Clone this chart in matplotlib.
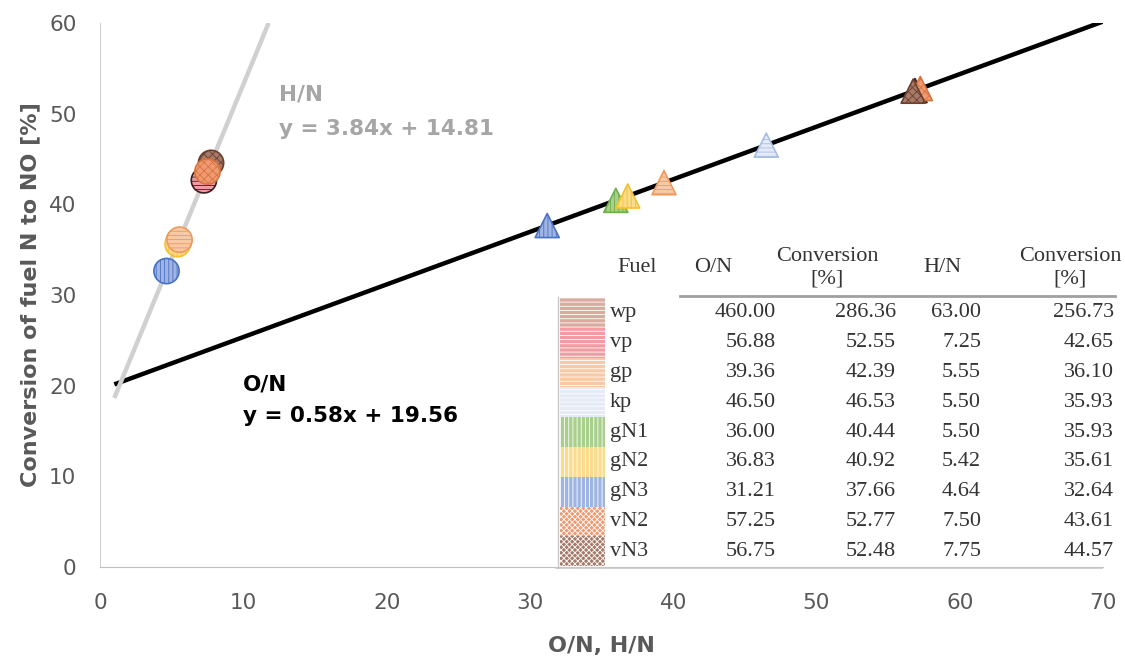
import matplotlib.pyplot as plt
import numpy as np
from matplotlib.patches import Rectangle

# data from the table in the chart
fuels = ['wp', 'vp', 'gp', 'kp', 'gN1', 'gN2', 'gN3', 'vN2', 'vN3']
o_n = [460.00, 56.88, 39.36, 46.50, 36.00, 36.83, 31.21, 57.25, 56.75]
conv_on = [286.36, 52.55, 42.39, 46.53, 40.44, 40.92, 37.66, 52.77, 52.48]
h_n = [63.00, 7.25, 5.55, 5.50, 5.50, 5.42, 4.64, 7.50, 7.75]
conv_hn = [256.73, 42.65, 36.10, 35.93, 35.93, 35.61, 32.64, 43.61, 44.57]

fills = ['#d9aaa0', '#f49aa2', '#f8c9a4', '#e4ebf7', '#a8cf8c', '#fbdc8c',
         '#9fb4e2', '#ef9a72', '#a57a68']
edges = ['#8b5a4e', '#3a1f1f', '#ee9a60', '#a8bde6', '#6fae4c', '#f2c230',
         '#4a72c4', '#d9743e', '#6b3f2c']
hatches = ['----', '----', '----', '----', '||||', '||||', '||||', 'xxxx', 'xxxx']

# fitted lines
on_fit = (0.58, 19.56)
hn_fit = (3.84, 14.81)

plt.rcParams['hatch.linewidth'] = 0.6

W, H = 1125, 662
fig = plt.figure(figsize=(W / 100, H / 100), dpi=100)
ax = fig.add_axes([100 / W, 1 - 567 / H, (1103 - 100) / W, (567 - 23) / H])

# trend lines
xs = np.array([1, 70])
ax.plot(xs, on_fit[0] * xs + on_fit[1], color='black', lw=3.2, zorder=2,
        solid_capstyle='butt')
xh = np.array([1, (60 - hn_fit[1]) / hn_fit[0]])
ax.plot(xh, hn_fit[0] * xh + hn_fit[1], color='#d0d0d0', lw=3.2, zorder=2,
        solid_capstyle='butt')

# points (skip wp, off scale)
for i in [6, 4, 5, 2, 3, 1, 7, 8]:
    ax.scatter(o_n[i], conv_on[i], marker='^', s=300, facecolor=fills[i],
               edgecolor=edges[i], hatch=hatches[i], linewidth=1.2, zorder=3)
for i in [6, 3, 4, 5, 2, 8, 1, 7]:
    ax.scatter(h_n[i], conv_hn[i], marker='o', s=330, facecolor=fills[i],
               edgecolor=edges[i], hatch=hatches[i], linewidth=1.2, zorder=3)

ax.set_xlim(0, 70)
ax.set_ylim(0, 60)
ax.set_xticks(range(0, 71, 10))
ax.set_yticks(range(0, 61, 10))
ax.tick_params(length=0, labelsize=15.5, labelcolor='#595959')
ax.tick_params(axis='y', pad=17)
ax.tick_params(axis='x', pad=19)
for s in ['top', 'right']:
    ax.spines[s].set_visible(False)
ax.spines['left'].set_color('#d0d0d0')
ax.spines['bottom'].set_color('#bfbfbf')
ax.set_xlabel('O/N, H/N', fontsize=16, fontweight='bold', color='#595959',
              labelpad=16)
ax.set_ylabel('Conversion of fuel N to NO [%]', fontsize=16,
              fontweight='bold', color='#595959', labelpad=6)

# fit labels
ax.text(12.5, 51.5, 'H/N', fontsize=15.5, fontweight='bold', color='#a6a6a6')
ax.text(12.5, 47.6, f'y = {hn_fit[0]:.2f}x + {hn_fit[1]:.2f}', fontsize=15.5,
        fontweight='bold', color='#a6a6a6')
ax.text(10.0, 19.5, 'O/N', fontsize=15.5, fontweight='bold', color='black')
ax.text(10.0, 16.0, f'y = {on_fit[0]:.2f}x + {on_fit[1]:.2f}', fontsize=15.5,
        fontweight='bold', color='black')


# embedded table (pixel layout helper)
def fx(px):
    return px / W


def fy(py):
    return 1 - py / H


tk = dict(fontsize=16, color='#333333', family='Liberation Serif')
fig.text(fx(637), fy(268), 'Fuel', ha='center', va='center', **tk)
fig.text(fx(713), fy(268), 'O/N', ha='center', va='center', **tk)
fig.text(fx(827), fy(268), 'Conversion\n[%]', ha='center', va='center',
         linespacing=1.25, **tk)
fig.text(fx(942), fy(268), 'H/N', ha='center', va='center', **tk)
fig.text(fx(1070), fy(268), 'Conversion\n[%]', ha='center', va='center',
         linespacing=1.25, **tk)

fig.add_artist(plt.Line2D([fx(680), fx(1115)], [fy(296), fy(296)],
                          color='#a0a0a0', lw=2))
fig.add_artist(plt.Line2D([fx(556), fx(1102)], [fy(568), fy(568)],
                          color='#c8c8c8', lw=1.2))
fig.add_artist(plt.Line2D([fx(558), fx(558)], [fy(297), fy(568)],
                          color='#c8c8c8', lw=1))

row_h = 29.8
y0 = 298
for k, name in enumerate(fuels):
    top = y0 + k * row_h
    yc = top + row_h / 2
    fig.add_artist(Rectangle((fx(560), fy(top + row_h)), fx(45), row_h / H,
                             facecolor=fills[k], edgecolor='white',
                             hatch=hatches[k].replace('xxxx', 'xxxxxx'),
                             lw=0))
    fig.text(fx(610), fy(yc), name, ha='left', va='center', **tk)
    fig.text(fx(776), fy(yc), f'{o_n[k]:.2f}', ha='right', va='center', **tk)
    fig.text(fx(896), fy(yc), f'{conv_on[k]:.2f}', ha='right', va='center', **tk)
    fig.text(fx(981), fy(yc), f'{h_n[k]:.2f}', ha='right', va='center', **tk)
    fig.text(fx(1114), fy(yc), f'{conv_hn[k]:.2f}', ha='right', va='center', **tk)

fig.savefig('out.png', dpi=100)
